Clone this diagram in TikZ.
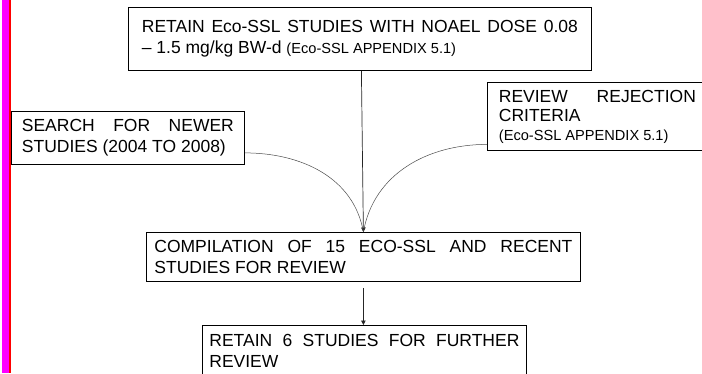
\documentclass[tikz,border=0pt]{standalone}
\usepackage{xcolor}
\usepackage{fontspec}
\setmainfont{Liberation Sans}
\usepackage{tikz}
\usetikzlibrary{arrows.meta,calc,positioning}
\definecolor{barpink}{HTML}{FF00FF}
\definecolor{barred}{HTML}{FF0000}
\newcommand{\appx}[1]{{\fontsize{14.6}{18}\selectfont #1}}

\begin{document}
\begin{tikzpicture}[x=1pt, y=1pt, arrow/.style = {line width=0.7pt, black!85, -{Triangle[width=4.5pt,length=4.5pt]}}, feed/.style = {line width=0.5pt, black!70}]
		\tikzset{stage/.style={draw=black, line width=0.8pt, anchor=north west, inner sep=0pt, align=justify, font=\fontsize{17.5}{20.8}\selectfont}}
		\useasboundingbox (0,0) rectangle (702,-373);
		\clip (0,0) rectangle (702,-373);
		\fill[barpink] (2,0) rectangle (9,-373);
		\fill[barred] (9,0) rectangle (11,-373);

		\node[stage, minimum width=463pt, minimum height=63pt, text width=436pt] (noael) at (128,-7) {RETAIN Eco-SSL STUDIES WITH NOAEL DOSE 0.08\linebreak – 1.5 mg/kg BW-d \appx{(Eco-SSL APPENDIX 5.1)}};
		\node[stage, minimum width=233pt, minimum height=53pt, text width=212pt, font=\fontsize{17.5}{21.2}\selectfont] (search) at (11,-111) {SEARCH FOR NEWER\linebreak STUDIES (2004 TO 2008)};
		\node[stage, minimum width=220pt, minimum height=68pt, text width=197pt, font=\fontsize{17.5}{19}\selectfont] (review) at (487,-82) {REVIEW REJECTION\linebreak CRITERIA\\ \appx{(Eco-SSL APPENDIX 5.1)}};

		\node[stage, minimum width=434pt, minimum height=49pt, text width=418pt] (compile) at (146,-232) {COMPILATION OF 15 ECO-SSL AND RECENT\linebreak STUDIES FOR REVIEW};
		\node[stage, minimum width=324pt, minimum height=51pt, text width=310pt] (retain) at (202,-325) {RETAIN 6 STUDIES FOR FURTHER\linebreak REVIEW};

		\draw [arrow] ([xshift=1.5pt]noael.south) -- (compile.north);
		\draw [feed] ([yshift=-15pt]search.east) to[out=0, in=100] (compile.north);
		\draw [feed] ([yshift=-28pt]review.west) to[out=180, in=80] (compile.north);
		\draw [arrow, shorten <=6pt] (compile.south) -- (compile.south |- retain.north);

	\end{tikzpicture}
\end{document}
